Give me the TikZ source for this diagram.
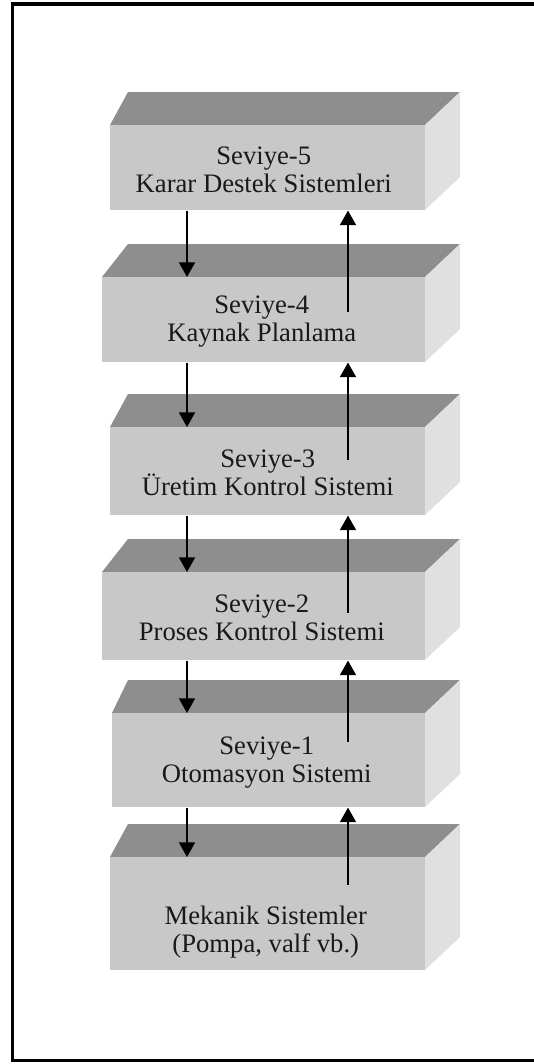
\documentclass[tikz,border=0pt]{standalone}
\usepackage{fontspec}
\setmainfont{Liberation Serif}
\usetikzlibrary{arrows.meta,calc}

\definecolor{frontgray}{RGB}{200,200,200}
\definecolor{topgray}{RGB}{142,142,142}
\definecolor{sidegray}{RGB}{224,224,224}

\newcommand{\labelfont}{\fontsize{20pt}{21pt}\selectfont}

\tikzset{
  topface/.style={fill=topgray},
  sideface/.style={fill=sidegray},
  frontface/.style={fill=frontgray, draw=none, inner sep=0pt, anchor=north west},
  lbl/.style={align=center, font=\labelfont, text=black!90, inner sep=0pt},
  flow/.style={line width=1.4pt, -{Triangle[width=12pt,length=11pt]}},
  frame/.style={line width=2.6pt, black}
}

% one slab of the stack: name, front left x, front top y, front bottom y
\newcommand{\slab}[4]{%
  \fill[topface] (#2,#3) -- (128,#3-33) -- (460,#3-33) -- (425,#3) -- cycle;
  \fill[sideface] (425,#3) -- (460,#3-33) -- (460,#4-33) -- (425,#4) -- cycle;
  \node[frontface, minimum width={(425-#2)*0.75pt}, minimum height={(#4-#3)*0.75pt}] (#1) at (#2,#3) {};
}

\begin{document}
\begin{tikzpicture}[x=0.75pt, y=-0.75pt]
  \useasboundingbox (0,0) rectangle (534,1064);
  \clip (0,0) rectangle (534,1064);

  % outer frame
  \draw[frame] (560,4) -- (12.5,4) -- (12.5,1060.5) -- (560,1060.5);

  % the six levels, top to bottom
  \slab{f5}{110}{125}{210}
  \slab{f4}{102}{277}{362}
  \slab{f3}{110}{427}{515}
  \slab{f2}{102}{572}{660}
  \slab{f1}{112}{713}{807}
  \slab{f0}{110}{857}{970}

  % labels
  \node[lbl] (t5) at ($(f5.center)+(-4,2)$) {Seviye-5\\Karar Destek Sistemleri};
  \node[lbl] (t4) at ($(f4.center)+(-2,2)$) {Seviye-4\\Kaynak Planlama};
  \node[lbl] (t3) at ($(f3.center)+(0,2)$) {Seviye-3\\Üretim Kontrol Sistemi};
  \node[lbl] (t2) at ($(f2.center)+(-2,2)$) {Seviye-2\\Proses Kontrol Sistemi};
  \node[lbl] (t1) at ($(f1.center)+(-2,2)$) {Seviye-1\\Otomasyon Sistemi};
  \node[lbl] (t0) at ($(f0.center)+(-2,18)$) {Mekanik Sistemler\\(Pompa, valf vb.)};

  % start points of the upward links
  \coordinate (u4) at (348,312);
  \coordinate (u3) at (348,460);
  \coordinate (u2) at (348,613);
  \coordinate (u1) at (348,742);
  \coordinate (u0) at (348,885);

  % downward links
  \foreach \a/\b in {f5/f4, f4/f3, f3/f2, f2/f1, f1/f0}
    \draw[flow] (\a.south -| 187,0) -- (\b.north -| 187,0);

  % upward links
  \foreach \a/\b in {u4/f5, u3/f4, u2/f3, u1/f2, u0/f1}
    \draw[flow] (\a) -- (\b.south -| \a);
\end{tikzpicture}
\end{document}
